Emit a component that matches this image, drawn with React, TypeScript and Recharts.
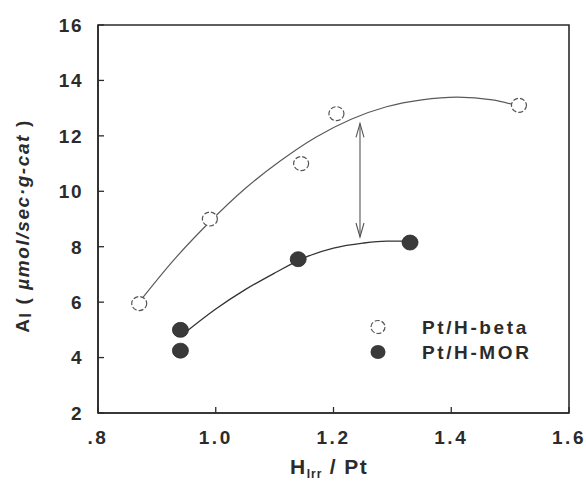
import React from "react";
import {
  ComposedChart,
  Line,
  Scatter,
  XAxis,
  YAxis,
  ReferenceLine,
  ReferenceArea,
  Legend,
} from "recharts";

// ---- data ----
const xTicks = [0.8, 1.0, 1.2, 1.4, 1.6];
const yTicks = [2, 4, 6, 8, 10, 12, 14, 16];

const betaX = [0.87, 0.99, 1.145, 1.205, 1.515];
const betaY = [5.95, 9.0, 11.0, 12.8, 13.1];

const morX = [0.94, 0.94, 1.14, 1.33];
const morY = [5.0, 4.25, 7.55, 8.15];

const betaFitX = [0.87, 0.93, 0.99, 1.05, 1.11, 1.17, 1.23, 1.29, 1.35, 1.41, 1.47, 1.51];
const betaFitY = [6.0, 7.55, 8.9, 10.1, 11.1, 11.95, 12.6, 13.05, 13.3, 13.4, 13.3, 13.1];

const morFitX = [0.945, 1.0, 1.05, 1.1, 1.15, 1.2, 1.25, 1.29, 1.33];
const morFitY = [4.85, 5.75, 6.45, 7.05, 7.6, 7.95, 8.13, 8.2, 8.2];

const arrowX = 1.245;
const arrowTop = 12.45;
const arrowBottom = 8.35;

const seriesNames = ["Pt/H-beta", "Pt/H-MOR"];

const zip = (xs: number[], ys: number[]) => xs.map((x, i) => ({ x, y: ys[i] }));
const betaPts = zip(betaX, betaY);
const morPts = zip(morX, morY);
const betaFit = zip(betaFitX, betaFitY);
const morFit = zip(morFitX, morFitY);

const FONT = "'Liberation Sans', Arial, sans-serif";
const INK = "#2b2b2b";

const fmtX = (v: number) => (Math.abs(v - 0.8) < 1e-9 ? ".8" : v.toFixed(1));

const XTick = (props: any) => {
  const { x, y, payload } = props;
  return (
    <g>
      <line x1={x} x2={x} y1={y} y2={y - 6} stroke={INK} strokeWidth={1.3} />
      <text
        x={x}
        y={y + 24}
        dy="0.36em"
        textAnchor="middle"
        fontFamily={FONT}
        fontWeight="bold"
        fontSize={19}
        letterSpacing={2.5}
        fill={INK}
      >
        {fmtX(payload.value)}
      </text>
    </g>
  );
};

const YTick = (props: any) => {
  const { x, y, payload } = props;
  return (
    <g>
      <line x1={x} x2={x + 6} y1={y} y2={y} stroke={INK} strokeWidth={1.3} />
      <text
        x={x - 15}
        y={y}
        dy="0.36em"
        textAnchor="end"
        fontFamily={FONT}
        fontWeight="bold"
        fontSize={19}
        letterSpacing={1.5}
        fill={INK}
      >
        {payload.value}
      </text>
    </g>
  );
};

const OpenDot = (props: any) => {
  const { cx, cy } = props;
  if (cx == null || cy == null) return null;
  return (
    <ellipse cx={cx} cy={cy} rx={7.5} ry={7} fill="#fff" stroke="#555" strokeWidth={1.2} strokeDasharray="5 2" />
  );
};

const FilledDot = (props: any) => {
  const { cx, cy } = props;
  if (cx == null || cy == null) return null;
  return <ellipse cx={cx} cy={cy} rx={8} ry={7.5} fill="#3a3a3a" stroke="#2a2a2a" strokeWidth={0.8} />;
};

const ArrowShape = (props: any) => {
  const { x1, y1, x2, y2 } = props;
  if ([x1, y1, x2, y2].some((v) => v == null || isNaN(v))) return null;
  const top = Math.min(y1, y2);
  const bot = Math.max(y1, y2);
  const x = x1;
  return (
    <g stroke="#555" strokeWidth={1.1} fill="none">
      <line x1={x} x2={x} y1={top} y2={bot} />
      <polyline points={`${x - 4},${top + 14} ${x},${top} ${x + 4},${top + 14}`} />
      <polyline points={`${x - 4},${bot - 14} ${x},${bot} ${x + 4},${bot - 14}`} />
    </g>
  );
};

const LegendContent = () => (
  <svg width={200} height={60} style={{ overflow: "visible", display: "block" }}>
    <ellipse cx={10} cy={14} rx={7} ry={6.5} fill="#fff" stroke="#555" strokeWidth={1.2} strokeDasharray="5 2" />
    <text x={54} y={14} dy="0.36em" fontFamily={FONT} fontWeight="bold" fontSize={19} letterSpacing={2.6} fill={INK}>
      {seriesNames[0]}
    </text>
    <ellipse cx={10} cy={39} rx={7.5} ry={7} fill="#3a3a3a" />
    <text x={54} y={39} dy="0.36em" fontFamily={FONT} fontWeight="bold" fontSize={19} letterSpacing={2.6} fill={INK}>
      {seriesNames[1]}
    </text>
  </svg>
);

export default function App() {
  return (
    <div style={{ position: "absolute", left: 0, top: 0, width: 586, height: 484, background: "#fff" }}>
      <ComposedChart
        width={586}
        height={484}
        margin={{ top: 25, right: 17, bottom: 0, left: 0 }}
      >
        <XAxis
          type="number"
          dataKey="x"
          domain={[0.8, 1.6]}
          ticks={xTicks}
          allowDataOverflow
          height={71}
          tickSize={0}
          tickMargin={0}
          tick={<XTick />}
          axisLine={{ stroke: INK, strokeWidth: 1.6 }}
          tickLine={false}
        />
        <YAxis
          type="number"
          dataKey="y"
          domain={[2, 16]}
          ticks={yTicks}
          allowDataOverflow
          width={98}
          tickSize={0}
          tickMargin={0}
          tick={<YTick />}
          axisLine={{ stroke: INK, strokeWidth: 1.6 }}
          tickLine={false}
        />
        <ReferenceArea x1={0.8} x2={1.6} y1={2} y2={16} fill="none" stroke={INK} strokeWidth={1.6} fillOpacity={0} />
        <Line
          data={betaFit}
          dataKey="y"
          type="monotone"
          stroke="#5a5a5a"
          strokeWidth={1.2}
          dot={false}
          activeDot={false}
          isAnimationActive={false}
          legendType="none"
        />
        <Line
          data={morFit}
          dataKey="y"
          type="monotone"
          stroke="#333"
          strokeWidth={1.3}
          dot={false}
          activeDot={false}
          isAnimationActive={false}
          legendType="none"
        />
        <ReferenceLine
          segment={[
            { x: arrowX, y: arrowTop },
            { x: arrowX, y: arrowBottom },
          ]}
          shape={<ArrowShape />}
        />
        <Scatter name={seriesNames[0]} data={betaPts} shape={<OpenDot />} isAnimationActive={false} />
        <Scatter name={seriesNames[1]} data={morPts} shape={<FilledDot />} isAnimationActive={false} />
        <Legend
          content={<LegendContent />}
          layout="horizontal"
          verticalAlign="middle"
          align="center"
          wrapperStyle={{ position: "absolute", left: 368, top: 313, width: 200, height: 60 }}
        />
      </ComposedChart>
      <svg
        width={586}
        height={484}
        style={{ position: "absolute", left: 0, top: 0, pointerEvents: "none" }}
      >
        <text x={290} y={466} dy="0.36em" fontFamily={FONT} fontWeight="bold" fontSize={21} letterSpacing={1.5} fill={INK}>
          H
          <tspan fontSize={12} dy={4} letterSpacing={1}>Irr</tspan>
          <tspan dy={-4}> / Pt</tspan>
        </text>
        <text
          transform="translate(22,226) rotate(-90)"
          textAnchor="middle"
          dy="0.36em"
          fontFamily={FONT}
          fontWeight="bold"
          fontSize={19}
          letterSpacing={1.6}
          fill={INK}
        >
          A<tspan fontSize={16} dy={2}>I</tspan>
          <tspan dy={-2}> ( </tspan>
          <tspan fontStyle="italic">µmol/sec·g-cat</tspan>
          <tspan> )</tspan>
        </text>
      </svg>
    </div>
  );
}
